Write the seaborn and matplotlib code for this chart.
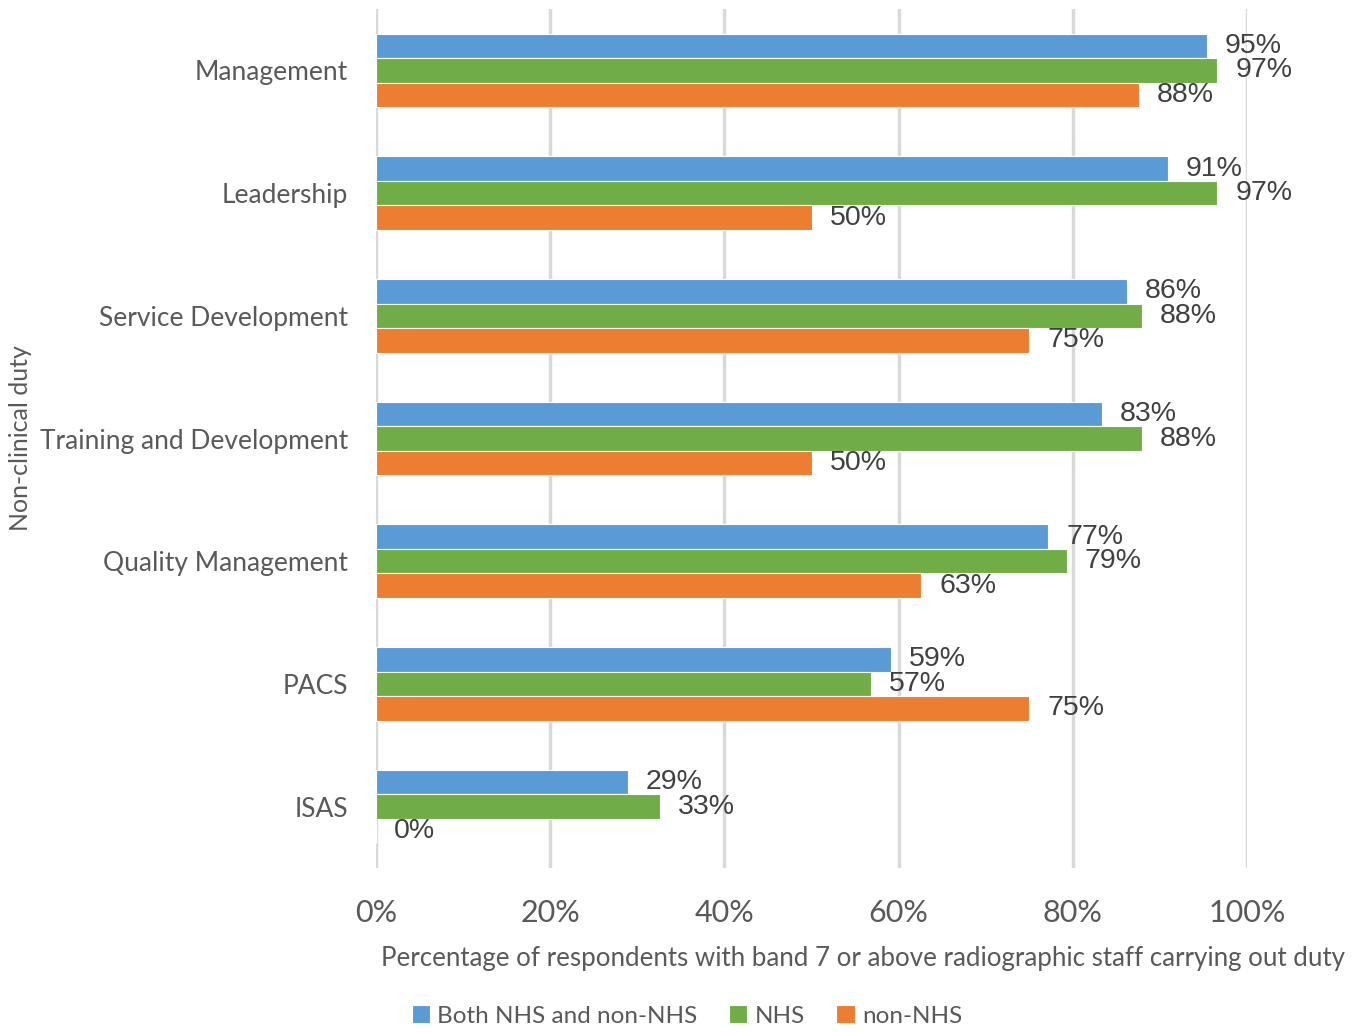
import pandas as pd
import matplotlib.pyplot as plt
import seaborn as sns

duties = ['Management', 'Leadership', 'Service Development', 'Training and Development',
          'Quality Management', 'PACS', 'ISAS']
both = [95.4, 90.9, 86.2, 83.3, 77.2, 59.1, 28.9]
nhs = [96.6, 96.6, 87.9, 87.9, 79.3, 56.8, 32.6]
non_nhs = [87.6, 50.0, 75.0, 50.0, 62.6, 75.0, 0.0]
groups = ['Both NHS and non-NHS', 'NHS', 'non-NHS']
colors = ['#5B9BD5', '#70AD47', '#ED7D31']

df = pd.DataFrame({
    'Duty': duties * 3,
    'Group': [groups[0]] * 7 + [groups[1]] * 7 + [groups[2]] * 7,
    'Value': both + nhs + non_nhs,
})

sns.set_style('white')
plt.rcParams['font.family'] = ['Lato', 'DejaVu Sans']

fig = plt.figure(figsize=(13.64, 10.32), dpi=100)
ax = fig.add_axes([376 / 1364, 1 - 868 / 1032, (1247 - 376) / 1364, (868 - 9) / 1032])

sns.barplot(data=df, y='Duty', x='Value', hue='Group', palette=colors, width=0.6,
            saturation=1, orient='h', ax=ax, edgecolor='white', linewidth=0.8, legend=True)

# value labels to the right of each bar
for cont in ax.containers:
    ax.bar_label(cont, labels=[f'{v.get_width():.0f}%' for v in cont], padding=13,
                 fontsize=20.5, color='#404040', family='Liberation Sans')

ax.set_xlim(0, 100)
ax.set_xticks(range(0, 101, 20))
ax.set_xticklabels([f'{t}%' for t in range(0, 101, 20)], fontsize=22, color='#595959')
ax.tick_params(axis='x', length=0, pad=22)
ax.tick_params(axis='y', length=0, pad=20, labelsize=19, labelcolor='#595959')
ax.grid(axis='x', color='#D9D9D9', linewidth=2.5)
ax.set_axisbelow(True)
for s in ax.spines.values():
    s.set_visible(False)

ax.set_xlabel('Percentage of respondents with band 7 or above radiographic staff carrying out duty',
              fontsize=18.6, color='#595959')
ax.xaxis.set_label_coords((863 - 376) / 871, 1 - (946 - 9) / 859)
ax.set_ylabel('Non-clinical duty', fontsize=18, color='#595959')
ax.yaxis.set_label_coords((32 - 376) / 871, 0.5)

ax.legend(loc='center', bbox_to_anchor=((687 - 376) / 871, 1 - (1016 - 9) / 859), ncol=3,
          frameon=False, fontsize=17.5, handlelength=0.75, handleheight=0.75,
          handletextpad=0.3, columnspacing=1.3, labelcolor='#595959', borderpad=0)

fig.savefig('out.png', dpi=100)
